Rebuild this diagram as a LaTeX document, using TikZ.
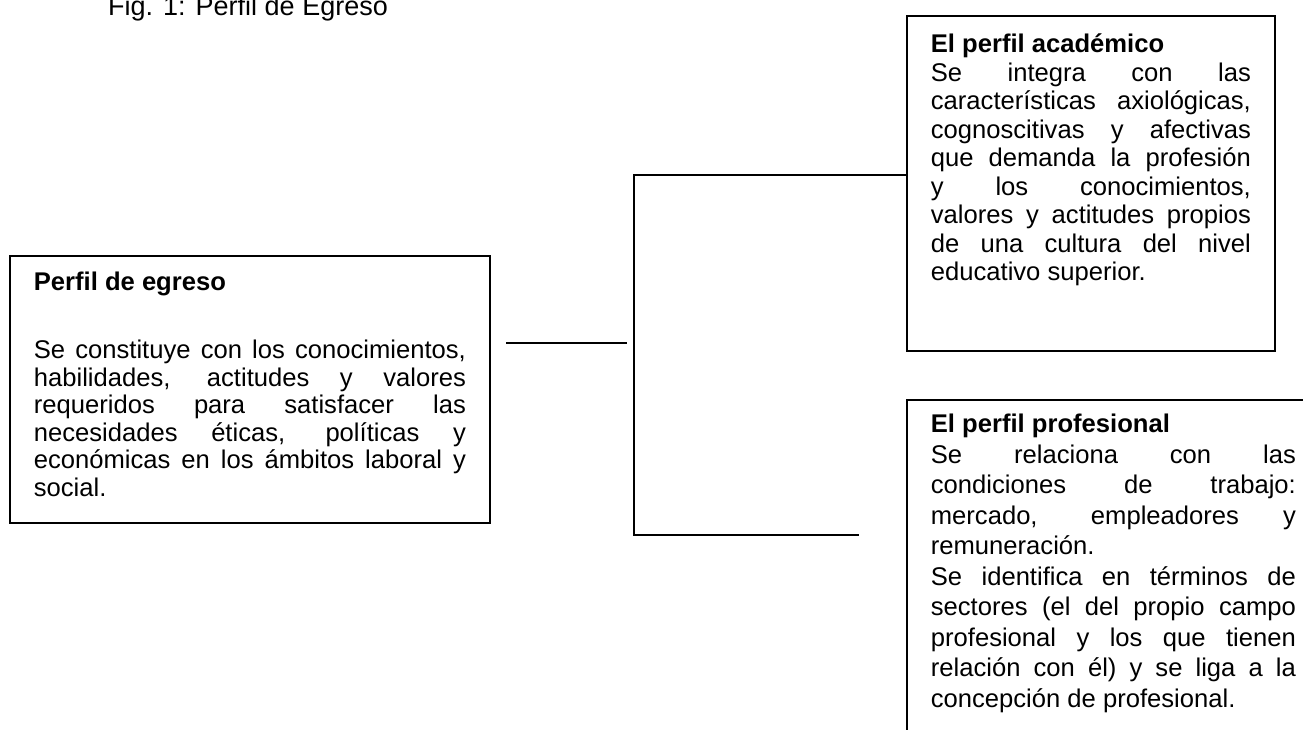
\documentclass[tikz,border=0pt]{standalone}
\usepackage{fontspec}
\setmainfont{Liberation Sans}
\usetikzlibrary{calc}
\tikzset{
  panel/.style={draw, line width=1.8pt, anchor=north west, align=justify, inner xsep=24pt,
    execute at begin node={\parindent=0pt\tolerance=10000\hbadness=10000\hyphenpenalty=10000}},
  joinline/.style={draw, line width=1.8pt},
  figlabel/.style={anchor=base west, inner sep=0pt, font=\fontsize{27pt}{32pt}\selectfont},
}

\begin{document}
\begin{tikzpicture}[x=1pt, y=-1pt]
  \useasboundingbox (0,0) rectangle (1303,729);
  \clip (0,0) rectangle (1303,729);
  % title
  \node[figlabel] (fig) at (108,15) {Fig. 1: Perfil de Egreso};
  % left box
  \node[panel, text width=432pt, inner ysep=15.75pt, font=\fontsize{25.6pt}{27.5pt}\selectfont] (egreso) at (9,255) {%
    \strut{\bfseries Perfil de egreso}\par\vspace{40.5pt}%
    Se constituye con los conocimientos,\linebreak
    habilidades, actitudes y valores\linebreak
    requeridos para satisfacer las\linebreak
    necesidades éticas, políticas y\linebreak
    económicas en los ámbitos laboral y\linebreak
    social.\rule[-10.75pt]{0pt}{10.75pt}};
  % right boxes
  \node[panel, text width=320pt, inner ysep=17pt, font=\fontsize{25.6pt}{28.5pt}\selectfont] (acad) at (906,15) {%
    \strut{\bfseries El perfil académico}\par
    Se integra con las\linebreak
    características axiológicas,\linebreak
    cognoscitivas y afectivas\linebreak
    que demanda la profesión\linebreak
    y los conocimientos,\linebreak
    valores y actitudes propios\linebreak
    de una cultura del nivel\linebreak
    educativo superior.\rule[-53pt]{0pt}{53pt}};
  \node[panel, text width=365pt, inner ysep=11.65pt, font=\fontsize{25.6pt}{30.5pt}\selectfont] (prof) at (906,399) {%
    \strut{\bfseries El perfil profesional}\par
    Se relaciona con las\linebreak
    condiciones de trabajo:\linebreak
    mercado, empleadores y\linebreak
    remuneración.\par
    Se identifica en términos de\linebreak
    sectores (el del propio campo\linebreak
    profesional y los que tienen\linebreak
    relación con él) y se liga a la\linebreak
    concepción de profesional.\rule[-60pt]{0pt}{60pt}};
  % connectors
  \coordinate (stubL) at (506,343);
  \coordinate (stubR) at (627,343);
  \coordinate (jtop) at (634,175);
  \coordinate (jbot) at (634,535);
  \coordinate (bend) at (859,535);
  \draw[joinline] (stubL) -- (stubR);
  \draw[joinline] (jtop -| acad.west) -- (jtop) -- (jbot) -- (bend);
\end{tikzpicture}
\end{document}
